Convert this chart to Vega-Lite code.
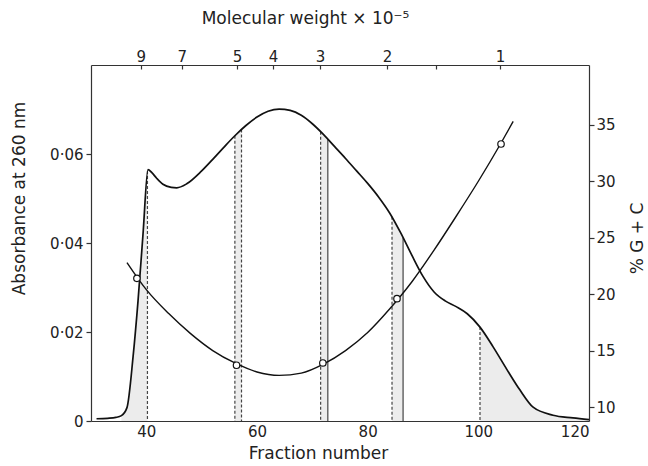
{
  "$schema": "https://vega.github.io/schema/vega-lite/v6.json",
  "width": 498,
  "height": 356,
  "autosize": {"type": "none"},
  "padding": {"left": 91, "top": 65, "right": 59, "bottom": 45},
  "background": "white",
  "config": {
    "view": {"stroke": null},
    "axis": {
      "labelFont": "DejaVu Sans", "titleFont": "DejaVu Sans",
      "labelFontSize": 15, "titleFontSize": 17, "titleFontWeight": "normal",
      "labelColor": "#222", "titleColor": "#222",
      "domainColor": "#333", "tickColor": "#333", "domainWidth": 1.2, "tickWidth": 1.2,
      "grid": false
    }
  },
  "datasets": {
    "abs": [
      {"f": 31, "a": 0.0005}, {"f": 33, "a": 0.0006}, {"f": 34.5, "a": 0.0008}, {"f": 35.5, "a": 0.0012},
      {"f": 36.5, "a": 0.003}, {"f": 37.6, "a": 0.0144}, {"f": 38.5, "a": 0.027}, {"f": 39.4, "a": 0.042},
      {"f": 40.3, "a": 0.0565}, {"f": 41.0, "a": 0.0558}, {"f": 41.9, "a": 0.0545}, {"f": 43.0, "a": 0.0532},
      {"f": 44.5, "a": 0.0525}, {"f": 45.5, "a": 0.0524}, {"f": 47.3, "a": 0.0533}, {"f": 50, "a": 0.0562},
      {"f": 52, "a": 0.0588}, {"f": 54, "a": 0.0615}, {"f": 56, "a": 0.0641}, {"f": 58, "a": 0.0664},
      {"f": 60, "a": 0.0683}, {"f": 62, "a": 0.0696}, {"f": 64, "a": 0.0701}, {"f": 66, "a": 0.0698},
      {"f": 68, "a": 0.0687}, {"f": 70, "a": 0.0668}, {"f": 72, "a": 0.0644}, {"f": 74, "a": 0.0617},
      {"f": 76, "a": 0.059}, {"f": 78, "a": 0.0562}, {"f": 80, "a": 0.0534}, {"f": 82, "a": 0.0503},
      {"f": 84, "a": 0.0467}, {"f": 86, "a": 0.0422}, {"f": 88, "a": 0.0372}, {"f": 90, "a": 0.0325},
      {"f": 92, "a": 0.029}, {"f": 94, "a": 0.027}, {"f": 96, "a": 0.0257}, {"f": 98, "a": 0.0241},
      {"f": 100.3, "a": 0.0211}, {"f": 102.7, "a": 0.0166}, {"f": 105.2, "a": 0.0115},
      {"f": 107.5, "a": 0.007}, {"f": 109.9, "a": 0.0031}, {"f": 113.5, "a": 0.0013}, {"f": 117.1, "a": 0.0007},
      {"f": 120, "a": 0.0003}
    ],
    "shade": [
      {"r": "a", "f": 35.5, "a": 0.0012}, {"r": "a", "f": 36.5, "a": 0.003}, {"r": "a", "f": 37.6, "a": 0.0144},
      {"r": "a", "f": 38.5, "a": 0.027}, {"r": "a", "f": 39.4, "a": 0.042}, {"r": "a", "f": 40.2, "a": 0.0562},
      {"r": "b", "f": 56.0, "a": 0.0641}, {"r": "b", "f": 57.2, "a": 0.0655},
      {"r": "c", "f": 71.5, "a": 0.065}, {"r": "c", "f": 72.8, "a": 0.0633},
      {"r": "d", "f": 84.4, "a": 0.0459}, {"r": "d", "f": 86.4, "a": 0.0412},
      {"r": "e", "f": 100.3, "a": 0.0211}, {"r": "e", "f": 102.7, "a": 0.0166}, {"r": "e", "f": 105.2, "a": 0.0115},
      {"r": "e", "f": 107.5, "a": 0.007}, {"r": "e", "f": 109.9, "a": 0.0031}, {"r": "e", "f": 113.5, "a": 0.0013},
      {"r": "e", "f": 117.1, "a": 0.0007}, {"r": "e", "f": 120, "a": 0.0003}
    ],
    "cuts": [
      {"f": 40.2, "a": 0.0562, "z": 0, "k": "dashed"},
      {"f": 56.0, "a": 0.0641, "z": 0, "k": "dashed"}, {"f": 57.2, "a": 0.0655, "z": 0, "k": "dashed"},
      {"f": 71.5, "a": 0.065, "z": 0, "k": "dashed"}, {"f": 72.8, "a": 0.0633, "z": 0, "k": "solid"},
      {"f": 84.4, "a": 0.0459, "z": 0, "k": "dashed"}, {"f": 86.4, "a": 0.0412, "z": 0, "k": "solid"},
      {"f": 100.3, "a": 0.0211, "z": 0, "k": "dashed"}
    ],
    "gc": [
      {"f": 36.5, "g": 22.8}, {"f": 40, "g": 20.4}, {"f": 44, "g": 18.3}, {"f": 48, "g": 16.5},
      {"f": 52, "g": 15.0}, {"f": 56, "g": 13.9}, {"f": 60, "g": 13.1}, {"f": 64, "g": 12.8},
      {"f": 68, "g": 13.0}, {"f": 72, "g": 13.8}, {"f": 76, "g": 15.0}, {"f": 80, "g": 16.6},
      {"f": 84, "g": 18.7}, {"f": 88, "g": 21.1}, {"f": 92, "g": 23.9}, {"f": 96, "g": 26.9},
      {"f": 100, "g": 30.0}, {"f": 104, "g": 33.3}, {"f": 106.3, "g": 35.3}
    ],
    "gcpts": [
      {"f": 38.3, "g": 21.4}, {"f": 56.3, "g": 13.7}, {"f": 71.9, "g": 13.9}, {"f": 85.3, "g": 19.6}, {"f": 104.1, "g": 33.3}
    ]
  },
  "layer": [
    {
      "layer": [
        {
          "data": {"name": "shade"},
          "mark": {"type": "area", "color": "#cfcfcf", "opacity": 0.4, "interpolate": "monotone"},
          "encoding": {
            "x": {"field": "f", "type": "quantitative", "scale": {"domain": [30, 120], "nice": false}},
            "y": {"field": "a", "type": "quantitative", "stack": null, "scale": {"domain": [0, 0.08], "nice": false}},
            "detail": {"field": "r", "type": "nominal"}
          }
        },
        {
          "data": {"name": "cuts"},
          "mark": {"type": "rule", "color": "#444", "strokeWidth": 1.2},
          "encoding": {
            "x": {"field": "f", "type": "quantitative", "scale": {"domain": [30, 120], "nice": false}},
            "y": {"field": "a", "type": "quantitative", "scale": {"domain": [0, 0.08], "nice": false}},
            "y2": {"field": "z"},
            "strokeDash": {"field": "k", "type": "nominal", "scale": {"domain": ["dashed", "solid"], "range": [[3, 2], [1, 0]]}, "legend": null}
          }
        },
        {
          "data": {"name": "abs"},
          "mark": {"type": "line", "color": "#111", "strokeWidth": 1.7, "interpolate": "monotone"},
          "encoding": {
            "x": {
              "field": "f", "type": "quantitative", "scale": {"domain": [30, 120], "nice": false},
              "axis": {
                "orient": "bottom", "values": [40, 60, 80, 100, 120], "tickSize": 0, "labelPadding": 3,
                "title": "Fraction  number", "titleX": 227, "titleY": 24, "titleBaseline": "top"
              }
            },
            "y": {
              "field": "a", "type": "quantitative", "scale": {"domain": [0, 0.08], "nice": false},
              "axis": {
                "orient": "left", "values": [0, 0.02, 0.04, 0.06], "tickSize": 5, "labelPadding": 3,
                "labelExpr": "datum.value == 0 ? '0' : replace(format(datum.value, '.2f'), '.', '·')",
                "title": "Absorbance  at  260  nm", "titleX": -67, "titleY": 133, "titleBaseline": "alphabetic"
              }
            }
          }
        }
      ]
    },
    {
      "layer": [
        {
          "data": {"name": "gc"},
          "mark": {"type": "line", "color": "#111", "strokeWidth": 1.4, "interpolate": "monotone"},
          "encoding": {
            "x": {
              "field": "f", "type": "quantitative", "scale": {"domain": [30, 120], "nice": false},
              "axis": {
                "orient": "top", "values": [39.0, 46.4, 56.4, 62.9, 71.4, 83.5, 92.4, 103.9],
                "labelExpr": "['9','7','5','4','3','2','','1'][indexof([39.0, 46.4, 56.4, 62.9, 71.4, 83.5, 92.4, 103.9], datum.value)]",
                "tickSize": -4, "labelPadding": 5,
                "title": "Molecular  weight  ×  10⁻⁵", "titleX": 214, "titleY": -42, "titleBaseline": "alphabetic"
              }
            },
            "y": {
              "field": "g", "type": "quantitative", "scale": {"domain": [8.76, 40.3], "nice": false, "zero": false},
              "axis": {
                "orient": "right", "values": [10, 15, 20, 25, 30, 35], "tickSize": 5, "labelPadding": 2,
                "title": "% G + C", "titleAngle": 270, "titleX": 53, "titleY": 173, "titleBaseline": "alphabetic"
              }
            }
          }
        },
        {
          "data": {"name": "gcpts"},
          "mark": {"type": "point", "shape": "circle", "size": 42, "filled": false, "fill": "white", "stroke": "#111", "strokeWidth": 1.2, "opacity": 1},
          "encoding": {
            "x": {"field": "f", "type": "quantitative", "scale": {"domain": [30, 120], "nice": false}},
            "y": {"field": "g", "type": "quantitative", "scale": {"domain": [8.76, 40.3], "nice": false, "zero": false}}
          }
        }
      ]
    }
  ],
  "resolve": {"scale": {"y": "independent"}, "axis": {"x": "independent", "y": "independent"}}
}
